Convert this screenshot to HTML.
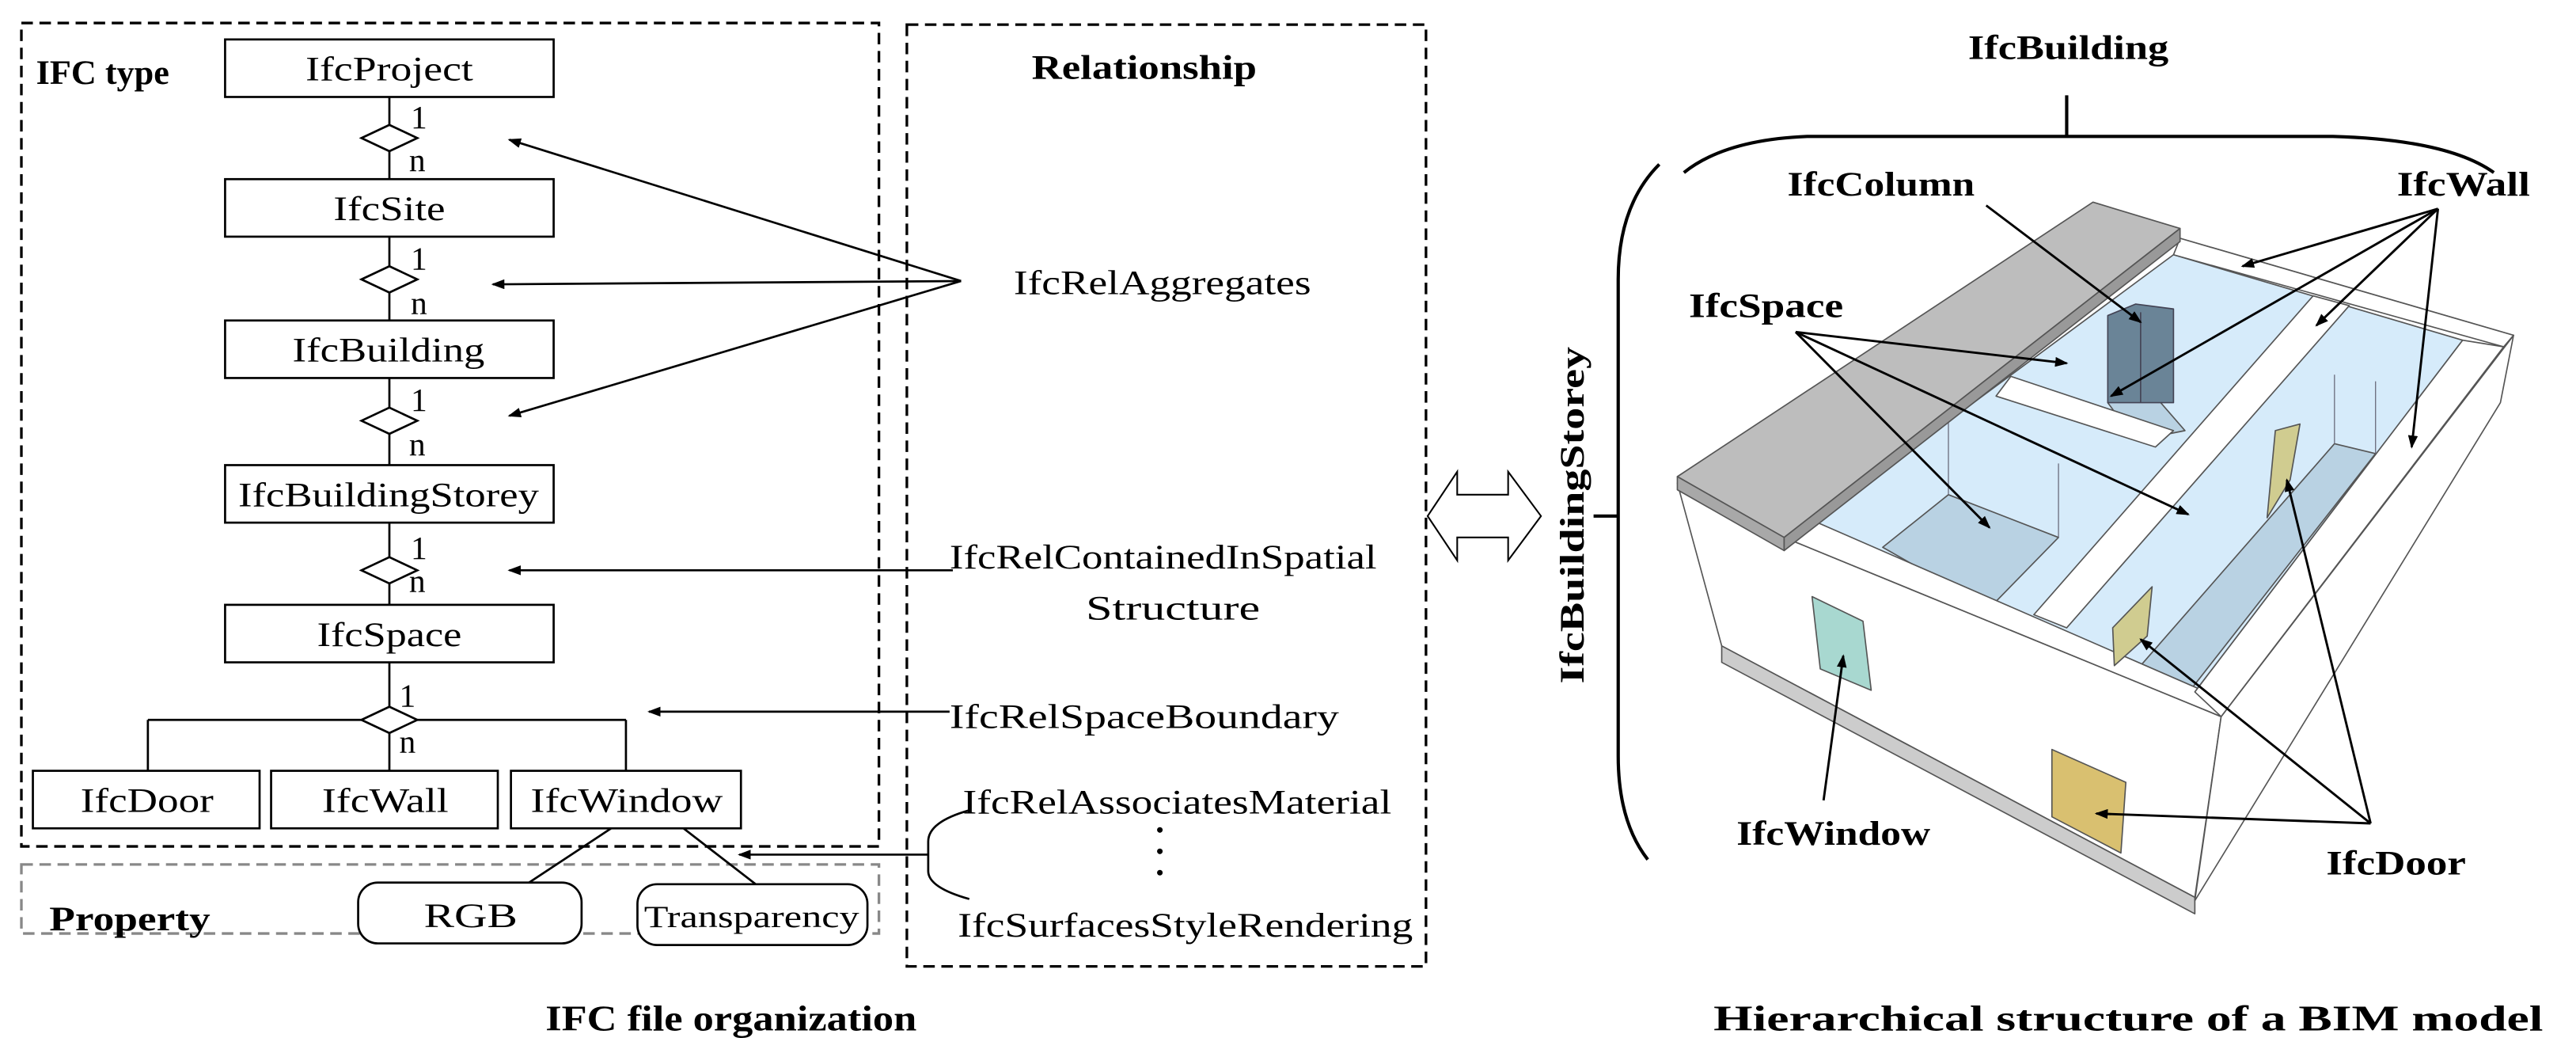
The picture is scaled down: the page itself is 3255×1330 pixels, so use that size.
<!DOCTYPE html>
<html><head><meta charset="utf-8"><style>
html,body{margin:0;padding:0;background:#fff;}
svg{display:block;}
text{font-family:"Liberation Serif",serif;fill:#000;}
.b{font-weight:bold;}
</style></head><body>
<svg width="3255" height="1330" viewBox="0 0 1568 640.7" xmlns="http://www.w3.org/2000/svg">
<defs>
<marker id="ar" markerWidth="8" markerHeight="6" refX="7" refY="3" orient="auto" markerUnits="userSpaceOnUse">
<path d="M0,0 L8,3 L0,6 z" fill="#000"/></marker>
</defs>
<rect x="13" y="14" width="522" height="501" fill="none" stroke="#000" stroke-width="1.6" stroke-dasharray="7,4"/>
<rect x="13" y="526" width="522" height="42" fill="none" stroke="#888" stroke-width="1.6" stroke-dasharray="7,4"/>
<rect x="552" y="15" width="316" height="573" fill="none" stroke="#000" stroke-width="1.6" stroke-dasharray="7,4"/>
<text x="22" y="51" font-size="21" class="b" textLength="81" lengthAdjust="spacingAndGlyphs">IFC type</text>
<text x="30" y="566" font-size="21" class="b" textLength="98" lengthAdjust="spacingAndGlyphs">Property</text>
<text x="628" y="48" font-size="21" class="b" textLength="137" lengthAdjust="spacingAndGlyphs">Relationship</text>
<g stroke="#000" stroke-width="1.3" fill="#fff">
<rect x="137" y="24" width="200" height="35"/>
<rect x="137" y="109" width="200" height="35"/>
<rect x="137" y="195" width="200" height="35"/>
<rect x="137" y="283" width="200" height="35"/>
<rect x="137" y="368" width="200" height="35"/>
<rect x="20" y="469" width="138" height="35"/>
<rect x="165" y="469" width="138" height="35"/>
<rect x="311" y="469" width="140" height="35"/>
<rect x="218" y="537" width="136" height="37" rx="12"/>
<rect x="388" y="538" width="140" height="37" rx="12"/>
<path d="M237,59V109M237,144V195M237,230V283M237,318V368M237,403V469M90,438H381M90,438V469M381,438V469M372,504L322,537M416,504L460,538" fill="none"/>
<path d="M220,84L237,76L254,84L237,92z"/>
<path d="M220,170L237,162L254,170L237,178z"/>
<path d="M220,256L237,248L254,256L237,264z"/>
<path d="M220,347L237,339L254,347L237,355z"/>
<path d="M220,438L237,430L254,438L237,446z"/>
</g>
<g font-size="21">
<text x="186" y="49" textLength="102" lengthAdjust="spacingAndGlyphs">IfcProject</text>
<text x="203" y="134" textLength="68" lengthAdjust="spacingAndGlyphs">IfcSite</text>
<text x="178" y="220" textLength="117" lengthAdjust="spacingAndGlyphs">IfcBuilding</text>
<text x="145" y="308" textLength="183" lengthAdjust="spacingAndGlyphs">IfcBuildingStorey</text>
<text x="193" y="393" textLength="88" lengthAdjust="spacingAndGlyphs">IfcSpace</text>
<text x="49" y="494" textLength="81" lengthAdjust="spacingAndGlyphs">IfcDoor</text>
<text x="196" y="494" textLength="77" lengthAdjust="spacingAndGlyphs">IfcWall</text>
<text x="323" y="494" textLength="117" lengthAdjust="spacingAndGlyphs">IfcWindow</text>
<text x="258" y="564" textLength="57" lengthAdjust="spacingAndGlyphs">RGB</text>
<text x="392" y="564" font-size="19" textLength="131" lengthAdjust="spacingAndGlyphs">Transparency</text>
</g>
<g font-size="20">
<text x="250" y="78">1</text><text x="249" y="104">n</text>
<text x="250" y="164">1</text><text x="250" y="191">n</text>
<text x="250" y="250">1</text><text x="249" y="277">n</text>
<text x="250" y="340">1</text><text x="249" y="360">n</text>
<text x="243" y="430">1</text><text x="243" y="458">n</text>
</g>
<g stroke="#000" stroke-width="1.3" fill="none" marker-end="url(#ar)">
<path d="M585,171L310,85"/>
<path d="M585,171L300,173"/>
<path d="M585,171L310,253"/>
<path d="M580,347L310,347"/>
<path d="M578,433L395,433"/>
<path d="M565,520L450,520"/>
</g>
<path d="M590,493Q565,500 565,512V530Q565,540 590,547" stroke="#000" stroke-width="1.3" fill="none"/>
<g font-size="21">
<text x="617" y="179" textLength="181" lengthAdjust="spacingAndGlyphs">IfcRelAggregates</text>
<text x="578" y="346" textLength="260" lengthAdjust="spacingAndGlyphs">IfcRelContainedInSpatial</text>
<text x="661" y="377" textLength="106" lengthAdjust="spacingAndGlyphs">Structure</text>
<text x="578" y="443" textLength="237" lengthAdjust="spacingAndGlyphs">IfcRelSpaceBoundary</text>
<text x="586" y="495" textLength="261" lengthAdjust="spacingAndGlyphs">IfcRelAssociatesMaterial</text>
<text x="583" y="570" textLength="277" lengthAdjust="spacingAndGlyphs">IfcSurfacesStyleRendering</text>
</g>
<g fill="#000"><circle cx="706" cy="505" r="1.7"/><circle cx="706" cy="518" r="1.7"/><circle cx="706" cy="531" r="1.7"/></g>
<text x="332" y="627" font-size="22" class="b" textLength="226" lengthAdjust="spacingAndGlyphs">IFC file organization</text>
<path d="M869,314L887,287V301H918V287L938,314L918,341V327H887V341z" fill="#fff" stroke="#000" stroke-width="1"/>
<text x="1198" y="36" font-size="21" class="b" textLength="122" lengthAdjust="spacingAndGlyphs">IfcBuilding</text>
<path d="M1025,105Q1050,85 1100,83H1420Q1490,85 1518,105M1258,58V83" stroke="#000" stroke-width="2" fill="none"/>
<path d="M1010,100Q985,125 985,170V460Q985,500 1003,523M970,314H985" stroke="#000" stroke-width="2" fill="none"/>
<text transform="translate(964,416) rotate(-90)" font-size="21" class="b" textLength="205" lengthAdjust="spacingAndGlyphs">IfcBuildingStorey</text>
<g stroke="#555" stroke-width="0.8" stroke-linejoin="round">
<path d="M1021,294L1352,436L1336,546L1048,393z" fill="#fff"/>
<path d="M1048,393L1336,546L1336,556L1048,403z" fill="#ccc"/>
<path d="M1352,436L1530,204L1522,245L1336,548z" fill="#fff"/>
<path d="M1086,327L1327,145L1530,204L1352,436z" fill="#fff"/>
<path d="M1104,317L1323,155L1499,207L1336,421z" fill="#d6ebfa"/>
<path d="M1146,333L1186,301L1253,327L1211,370z" fill="#b9d2e3"/>
<path d="M1303,405L1421,270L1446,276L1334,419z" fill="#b9d2e3"/>
<path d="M1283,245L1310,239L1330,262L1300,268z" fill="#b9d2e3"/>
<path d="M1104,317L1086,327L1352,436L1352,425z" fill="#fff"/>
<path d="M1408,180L1430,186L1258,382L1238,374z" fill="#fff"/>
<path d="M1224,229L1323,262L1312,272L1215,241z" fill="#fff"/>
<path d="M1327,145L1530,204L1524,211L1323,155z" fill="#fff"/>
<path d="M1499,207L1524,211L1352,436L1336,421z" fill="#fff"/>
<path d="M1186,301L1186,255M1253,327L1253,282M1421,270L1421,228M1446,276L1446,232" fill="none" stroke="#667" stroke-width="0.6"/>
<path d="M1283,192L1300,185L1323,188L1323,245L1283,245z" fill="#6a8497" stroke="#445"/>
<path d="M1303,190L1303,245" stroke="#445"/>
<path d="M1103,363L1134,378L1139,420L1108,407z" fill="#a8d8d0"/>
<path d="M1249,456L1294,476L1291,519L1249,497z" fill="#d9c070"/>
<path d="M1385,262L1400,258L1394,292L1380,315z" fill="#d0cc90"/>
<path d="M1286,382L1310,357L1307,387L1287,405z" fill="#d0cc90"/>
<path d="M1021,290L1274,123L1327,139L1086,327z" fill="#bdbdbd"/>
<path d="M1021,290L1086,327L1086,335L1021,298z" fill="#a8a8a8"/>
<path d="M1086,327L1327,139L1327,147L1086,335z" fill="#999"/>
</g>
<g font-size="21" class="b">
<text x="1088" y="119" textLength="114" lengthAdjust="spacingAndGlyphs">IfcColumn</text>
<text x="1459" y="119" textLength="81" lengthAdjust="spacingAndGlyphs">IfcWall</text>
<text x="1028" y="193" textLength="94" lengthAdjust="spacingAndGlyphs">IfcSpace</text>
<text x="1057" y="514" textLength="118" lengthAdjust="spacingAndGlyphs">IfcWindow</text>
<text x="1416" y="532" textLength="85" lengthAdjust="spacingAndGlyphs">IfcDoor</text>
</g>
<g stroke="#000" stroke-width="1.4" fill="none" marker-end="url(#ar)">
<path d="M1209,125L1303,196"/>
<path d="M1484,127L1365,162"/>
<path d="M1484,127L1285,241"/>
<path d="M1484,127L1410,198"/>
<path d="M1484,127L1468,272"/>
<path d="M1093,202L1258,221"/>
<path d="M1093,202L1332,313"/>
<path d="M1093,202L1211,321"/>
<path d="M1110,487L1122,399"/>
<path d="M1443,501L1276,495"/>
<path d="M1443,501L1303,389"/>
<path d="M1443,501L1392,292"/>
</g>
<text x="1043" y="627" font-size="22" class="b" textLength="505" lengthAdjust="spacingAndGlyphs">Hierarchical structure of a BIM model</text>
</svg>
</body></html>
